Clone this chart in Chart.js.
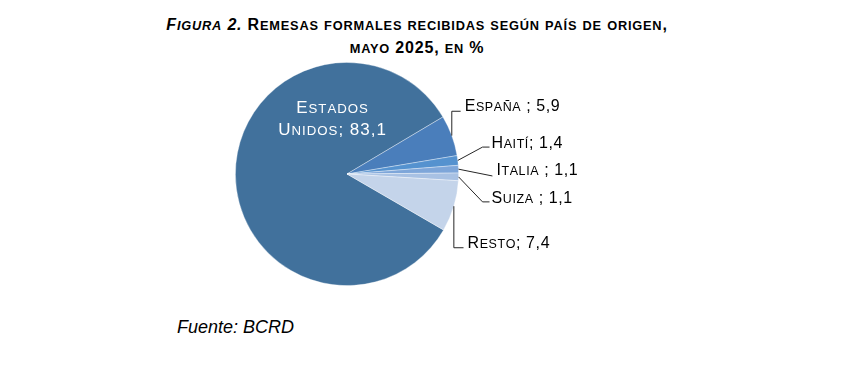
<!DOCTYPE html>
<html>
<head>
<meta charset="utf-8">
<script src="https://cdn.jsdelivr.net/npm/chart.js"></script>
<style>
  body { margin: 0; background: #fff; width: 852px; height: 377px; position: relative; overflow: hidden;
         font-family: "Liberation Sans", Arial, sans-serif; color: #000; }
  #title { position: absolute; left: 0; width: 834px; top: 14px; text-align: center; font-weight: bold;
           font-size: 16px; line-height: 22px; letter-spacing: 0.8px; }
  #title .sc { font-size: 0.8em; text-transform: uppercase; }
  #source { position: absolute; left: 177px; top: 317px; font-style: italic; font-size: 18px; }
  canvas { position: absolute; left: 0; top: 0; }
</style>
</head>
<body>
<div id="title"><i>Figura 2.</i> Remesas formales recibidas según país de origen,<br>mayo 2025, en %</div>
<div id="source">Fuente: BCRD</div>
<canvas id="pieChart" width="852" height="377"></canvas>
<script>
// valores de la figura
var categories = ["Estados Unidos", "España", "Haití", "Italia", "Suiza", "Resto"];
var shares = [83.1, 5.9, 1.4, 1.1, 1.1, 7.4];
var separators = ["; ", " ; ", "; ", " ; ", " ; ", "; "];
var sliceColors = ["#41719c", "#4a7ebb", "#5592cf", "#7ea6d9", "#a8c1e3", "#c4d4ea"];

// posicion de las etiquetas, en radios desde el centro
var labelLayout = [
    { x: -0.134, y: -0.598, inside: true },
    { x: 1.054, y: -0.616, leader: "v" },
    { x: 1.295, y: -0.286, leader: "h" },
    { x: 1.339, y: -0.045, leader: "d" },
    { x: 1.295, y: 0.205, leader: "h" },
    { x: 1.080, y: 0.607, leader: "v" }
];

var SC_RATIO = 0.78;

// versalitas a mano: minusculas en mayusculas mas pequeñas
function smallCapsHTML(el) {
    var walk = function(node) {
        Array.from(node.childNodes).forEach(function(n) {
            if (n.nodeType === 3) {
                var span = document.createElement('span');
                span.innerHTML = n.textContent.replace(/([a-zà-ÿñ]+)/g, '<span class="sc">$1</span>');
                node.replaceChild(span, n);
            } else if (n.nodeType === 1 && n.tagName !== 'BR') {
                walk(n);
            }
        });
    };
    walk(el);
}
smallCapsHTML(document.getElementById('title'));

function drawSmallCaps(ctx, text, x, midY, size, align, spacing) {
    var fontFor = function(s) { return s + 'px "Liberation Sans", Arial, sans-serif'; };
    var chars = Array.from(text).map(function(ch) {
        var small = ch !== ch.toUpperCase();
        return { c: small ? ch.toUpperCase() : ch, s: small ? size * SC_RATIO : size };
    });
    var w = 0;
    chars.forEach(function(o) {
        ctx.font = fontFor(o.s);
        o.w = ctx.measureText(o.c).width;
        w += o.w + spacing;
    });
    w -= spacing;
    var cx = align === 'center' ? x - w / 2 : x;
    var base = midY + size * 0.36;
    ctx.textAlign = 'left';
    ctx.textBaseline = 'alphabetic';
    chars.forEach(function(o) {
        ctx.font = fontFor(o.s);
        ctx.fillText(o.c, cx, base);
        cx += o.w + spacing;
    });
}

var pieLabels = {
    id: 'pieLabels',
    afterDatasetsDraw: function(chart) {
        var ctx = chart.ctx;
        var meta = chart.getDatasetMeta(0);
        meta.data.forEach(function(arc, i) {
            var p = arc.getProps(['x', 'y', 'startAngle', 'endAngle', 'outerRadius'], true);
            var r = p.outerRadius;
            var lay = labelLayout[i];
            var tx = p.x + lay.x * r, ty = p.y + lay.y * r;
            var text = categories[i] + separators[i] + shares[i].toFixed(1).replace('.', ',');

            ctx.save();
            if (lay.inside) {
                var cut = text.indexOf(' ');
                ctx.fillStyle = '#fff';
                drawSmallCaps(ctx, text.slice(0, cut), tx, ty, 17, 'center', 1);
                drawSmallCaps(ctx, text.slice(cut + 1), tx, ty + 22, 17, 'center', 1);
                ctx.restore();
                return;
            }

            var mid = (p.startAngle + p.endAngle) / 2;
            var sx = p.x + Math.cos(mid) * r, sy = p.y + Math.sin(mid) * r;
            ctx.strokeStyle = '#262626';
            ctx.lineWidth = 1;
            ctx.beginPath();
            ctx.moveTo(sx, sy);
            if (lay.leader === 'v') {
                ctx.lineTo(sx, ty + 6);
                ctx.lineTo(tx - 4, ty + 6);
            } else if (lay.leader === 'h') {
                ctx.lineTo(tx - 9, ty + 5);
                ctx.lineTo(tx - 2, ty + 5);
            } else {
                ctx.lineTo(tx - 4, ty + 7);
            }
            ctx.stroke();

            ctx.fillStyle = '#000';
            drawSmallCaps(ctx, text, tx, ty, 16, 'left', 0.6);
            ctx.restore();
        });
    }
};

var ctx = document.getElementById("pieChart").getContext("2d");
new Chart(ctx, {
    type: 'pie',
    data: {
        labels: categories,
        datasets: [{
            data: shares,
            backgroundColor: sliceColors,
            borderColor: 'rgba(255,255,255,0.45)',
            borderWidth: 0.8
        }]
    },
    options: {
        responsive: false,
        animation: false,
        rotation: 120.1,
        layout: { padding: { left: 235, right: 393, top: 62, bottom: 91 } },
        plugins: {
            legend: { display: false },
            tooltip: { enabled: false },
            title: { display: false }
        }
    },
    plugins: [pieLabels]
});
</script>
</body>
</html>
